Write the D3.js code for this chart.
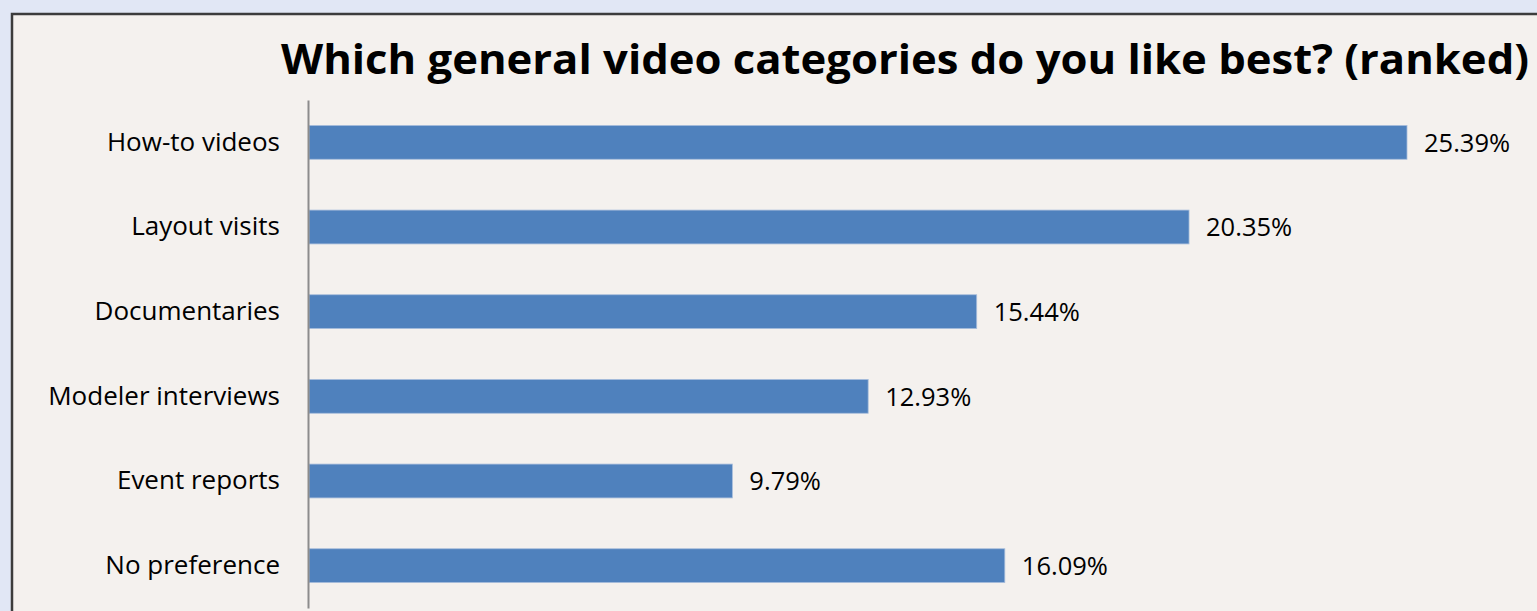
<!DOCTYPE html>
<html>
<head>
<meta charset="utf-8">
<script src="https://cdn.jsdelivr.net/npm/d3@7"></script>
<style>
  html, body { margin: 0; padding: 0; background: #e1e7f5; overflow: hidden; }
  #main { width: 1537px; height: 611px; }
</style>
</head>
<body>
<div id="main"></div>
<script>
const categories = ["How-to videos", "Layout visits", "Documentaries", "Modeler interviews", "Event reports", "No preference"];
const values = [25.39, 20.35, 15.44, 12.93, 9.79, 16.09];
const valueLabels = ["25.39%", "20.35%", "15.44%", "12.93%", "9.79%", "16.09%"];
const title = "Which general video categories do you like best? (ranked)";

const W = 1537, H = 611;
const axisX = 308;

const svg = d3.select("#main")
  .append("svg")
  .attr("width", W)
  .attr("height", H);

// panel with dark border
svg.append("rect")
  .attr("x", 12)
  .attr("y", 14)
  .attr("width", W + 20)
  .attr("height", H + 20)
  .attr("fill", "#f4f1ee")
  .attr("stroke", "#3c3c3c")
  .attr("stroke-width", 2.5);

svg.append("text")
  .attr("x", 905)
  .attr("y", 74)
  .attr("text-anchor", "middle")
  .attr("font-family", "Open Sans, sans-serif")
  .attr("font-weight", "bold")
  .attr("font-size", "41px")
  .attr("textLength", 1248)
  .attr("lengthAdjust", "spacingAndGlyphs")
  .attr("fill", "#000")
  .text(title);

const xScale = d3.scaleLinear()
  .domain([0, 25.39])
  .range([axisX + 1, 1407]);

const yScale = d3.scaleBand()
  .domain(categories)
  .range([100, 608])
  .paddingInner(0.6)
  .paddingOuter(0.3);

const rows = categories.map((c, i) => ({ cat: c, val: values[i], lab: valueLabels[i] }));

svg.selectAll("rect.bar")
  .data(rows)
  .join("rect")
  .attr("class", "bar")
  .attr("x", xScale(0))
  .attr("y", d => yScale(d.cat))
  .attr("width", d => xScale(d.val) - xScale(0))
  .attr("height", yScale.bandwidth())
  .attr("fill", "#4f81bd")
  .attr("stroke", "#a9bfdc")
  .attr("stroke-width", 0.8);

// value labels
svg.selectAll("text.val")
  .data(rows)
  .join("text")
  .attr("class", "val")
  .attr("x", d => xScale(d.val) + 17)
  .attr("y", d => yScale(d.cat) + yScale.bandwidth() / 2)
  .attr("dy", "0.36em")
  .attr("font-family", "Open Sans, sans-serif")
  .attr("font-size", "25.5px")
  .attr("fill", "#000")
  .text(d => d.lab);

// category axis
const yAxis = svg.append("g")
  .attr("transform", `translate(${axisX},0)`)
  .call(d3.axisLeft(yScale).tickSize(0).tickPadding(28));

yAxis.select(".domain")
  .attr("stroke", "#8c8c8c")
  .attr("stroke-width", 2);

yAxis.selectAll("text")
  .attr("font-family", "Open Sans, sans-serif")
  .attr("font-size", "26px")
  .attr("fill", "#000");
</script>
</body>
</html>
